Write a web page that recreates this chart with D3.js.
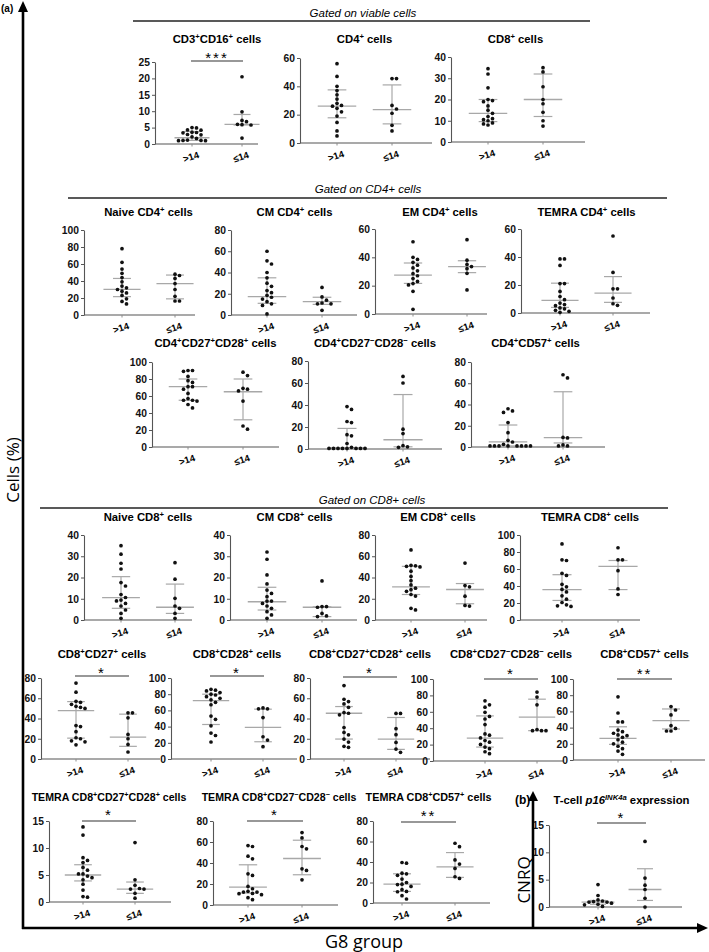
<!DOCTYPE html>
<html>
<head>
<meta charset="utf-8">
<script src="https://cdn.jsdelivr.net/npm/d3@7"></script>
<style>
  body { margin: 0; background: #fff; }
  svg { display: block; }
</style>
</head>
<body>
<div id="chart"></div>
<script>
// ---------- data ----------
const groups = [">14", "≤14"];

const titles = [
  "CD3^+CD16^+ cells", "CD4^+ cells", "CD8^+ cells",
  "Naive CD4^+ cells", "CM CD4^+ cells", "EM CD4^+ cells", "TEMRA CD4^+ cells",
  "CD4^+CD27^+CD28^+ cells", "CD4^+CD27^−CD28^− cells", "CD4^+CD57^+ cells",
  "Naive CD8^+ cells", "CM CD8^+ cells", "EM CD8^+ cells", "TEMRA CD8^+ cells",
  "CD8^+CD27^+ cells", "CD8^+CD28^+ cells", "CD8^+CD27^+CD28^+ cells", "CD8^+CD27^−CD28^− cells", "CD8^+CD57^+ cells",
  "TEMRA CD8^+CD27^+CD28^+ cells", "TEMRA CD8^+CD27^−CD28^− cells", "TEMRA CD8^+CD57^+ cells",
  "T-cell _{p16}^{INK4a} expression"
];

const yMax  = [25, 60, 40, 100, 80, 60, 60, 100, 80, 80, 40, 40, 80, 100, 80, 100, 80, 100, 100, 15, 80, 80, 15];
const yStep = [5, 20, 10, 20, 20, 20, 20, 20, 20, 20, 10, 10, 20, 20, 20, 20, 20, 20, 20, 5, 20, 20, 5];

const stars = ["***", "", "", "", "", "", "", "", "", "", "", "", "", "",
  "*", "*", "*", "*", "**", "*", "*", "**", "*"];

// individual values, group >14
const over14 = [
  [5.0, 4.9, 4.3, 4.2, 3.6, 3.5, 3.4, 2.9, 2.8, 2.2, 1.7, 1.2, 1.1, 1.1, 1.0, 1.0],
  [56, 47, 40, 37, 34, 31, 28, 26.5, 26, 24.5, 22, 19, 14.5, 8.5, 5],
  [34.5, 32, 25.5, 20, 19.5, 19, 17, 15, 13.5, 12, 11, 10.5, 10, 9, 8.5, 8],
  [78, 62, 54, 49, 44, 39, 34, 32, 30, 28, 26, 23, 19, 16, 13],
  [60, 51, 48, 40, 35, 30, 27, 23, 21, 18.5, 16.7, 15, 12.5, 10.5, 9, 1],
  [51, 40, 38.5, 36.5, 34.5, 32.5, 30.5, 28.5, 27, 25, 23, 21.5, 20.5, 16, 3.3],
  [38.6, 38.6, 34, 21, 21, 15.4, 11.8, 9.5, 7.1, 6, 5.2, 3.6, 3, 1.9, 1.2, 0.5],
  [90, 90, 89, 83, 78, 76, 71, 71, 68, 63, 57, 55, 55, 54, 50, 46],
  [38.6, 36, 25, 24, 13, 12, 5, 1.5, 0.5, 0.5, 0.5, 0.5, 0.5, 0.5, 0.5, 0.5],
  [36, 34, 32.5, 23, 13.5, 6.3, 4.7, 2.5, 1, 1, 1, 1, 1, 1, 1, 1],
  [35, 31, 26.7, 24, 17.6, 16, 12, 10.6, 9.4, 9, 7.8, 6.6, 4.7, 3.1, 0.8],
  [32, 28.6, 21.2, 17, 14.1, 12.5, 11, 8.9, 8.9, 7.8, 6.6, 5.5, 3.9, 2.4, 0.8],
  [66, 51.5, 51, 50.5, 50, 46, 41, 37, 33, 30, 28.5, 27, 24, 22.5, 11, 9.5],
  [89.5, 70.8, 70, 54.9, 52.5, 42, 39, 36, 33, 28.4, 24.5, 20.6, 17.9, 16.7, 16],
  [75, 66, 57, 56, 54, 52, 51, 50, 33, 32, 27, 21, 20, 18, 17, 14],
  [86, 85, 84, 82, 80, 79, 77, 75, 73, 70, 67, 53, 49, 41, 32, 29, 21],
  [72.5, 59, 56.7, 54.4, 51, 45.9, 45.2, 43.6, 31.1, 26.2, 23.9, 19.7, 16.7, 12.5, 11.5],
  [73.4, 68.5, 65.7, 59.3, 54.4, 51.2, 44.4, 33, 31.5, 28.2, 25, 23, 20.2, 17, 15, 11.3, 8.9],
  [78, 58, 47, 47, 37, 35, 33, 31, 30, 28, 25, 22, 20, 17, 14, 11, 7],
  [13.9, 12.4, 8.2, 7.7, 7.3, 6.4, 5.9, 5.2, 5.2, 4.8, 4.5, 4.1, 3.3, 2.2, 1.0, 0.9],
  [56.6, 55.7, 46.5, 44, 29.7, 28.2, 17.7, 15.5, 13, 12.3, 12.3, 11, 10.8, 9.8, 7, 5.1],
  [39.5, 38.9, 29.1, 28.5, 27, 23.3, 20, 18.4, 18, 16.2, 13, 11.3, 11, 7.1, 3.9],
  [4.1, 2.1, 1.3, 1.1, 1.0, 0.9, 0.9, 0.7, 0.5, 0.4, 0.1]
];

// individual values, group <=14
const upTo14 = [
  [20.5, 9.8, 7.2, 6.8, 6.0, 5.9, 5.8, 1.8],
  [45.5, 45.5, 26.5, 24, 21, 12.5, 8.5],
  [35, 33, 26, 20, 18, 14, 10, 7.5],
  [48, 46.5, 43, 37, 30, 22, 16.5, 16.5],
  [26, 17, 14, 11.3, 10.5, 10.5, 4.4],
  [52.5, 38, 35, 33.5, 32, 28.7, 17],
  [55, 29, 17.3, 17.3, 10.7, 6.6, 5.5],
  [88, 84, 69, 68, 66, 54, 24.7, 21],
  [66, 60, 18, 14, 3, 2, 1.5],
  [68, 65, 9, 8.5, 2, 1, 1],
  [27, 19.2, 10.2, 6.6, 5.5, 3.1, 0.8],
  [18.4, 6.3, 6.3, 6.0, 3.1, 1.9, 1.6],
  [53.6, 32.4, 31.2, 22.4, 13.7, 13.1],
  [85, 70.8, 70.8, 58, 36.6, 30],
  [45.6, 45.6, 40.7, 24.3, 20, 14.4, 6.9],
  [63, 62, 62, 51.2, 27.5, 23.4, 15.2],
  [45, 45, 30, 24, 16.4, 9.8, 6.6],
  [84, 78, 68.5, 38.3, 37, 37, 37],
  [66, 61.7, 55.6, 42.4, 39, 35.8, 35.8],
  [11, 4.1, 3.1, 2.5, 2.4, 2.4, 1.6, 0.7],
  [69, 63.9, 55.7, 53.5, 34.5, 32.9, 24],
  [58.3, 55, 42, 38, 33.7, 25.6, 24],
  [12, 5.3, 4, 3.2, 1.6, 0]
];

// [Q1, median, Q3] as drawn
const statsOver = [
  [1.1, 1.9, 3.8], [17.8, 26, 37.5], [9.6, 13.5, 20], [21.6, 30.2, 43], [11, 17.3, 35],
  [21.6, 27.5, 36], [4, 9, 21.3], [55, 71, 80], [0.5, 1.3, 18.7], [1, 4.9, 20.7],
  [5.5, 10.5, 20.4], [4.7, 8.6, 15.4], [24, 31.2, 50.5], [23, 35.8, 53.3],
  [20.6, 47.8, 56.7], [42.6, 72, 80], [19.7, 45.2, 51.8], [17, 28, 55], [19.3, 26.7, 41],
  [3.9, 5, 6.9], [11.4, 17.1, 38.3], [11.3, 18.4, 28.5], [0.5, 0.9, 1.2]
];
const statsUpTo = [
  [5.8, 6.0, 9.0], [13.5, 23.5, 41], [12, 20, 32], [19, 37, 47], [10, 12.5, 16.7],
  [29.2, 33.4, 37.6], [7.6, 14.2, 26], [32, 65, 80], [2, 8.4, 49.5], [3.8, 8.8, 52],
  [3.1, 6, 16.9], [1.6, 6, 6.2], [15.3, 28.7, 34.3], [35.8, 63, 70],
  [12.5, 21.6, 44.3], [21.3, 39, 61.5], [9.5, 19.7, 41], [37, 53.6, 75.4], [38.3, 48.6, 63],
  [1.6, 2.4, 3.7], [28.8, 44.3, 61.7], [25, 35.3, 49.2], [1.2, 3.2, 7]
];

// ---------- layout: [axisX, group1X, group2X, axisEnd, yTop, y0, titleY, sigY, starY] ----------
const layout = [
  [155, 192, 242, 258, 62, 144, 43, 61, 55],
  [300, 337, 392, 432, 58, 143, 43],
  [451, 488, 543, 585, 57, 142, 43],
  [84, 122, 175, 195, 230, 315, 216],
  [231, 267, 322, 357, 230, 315, 216],
  [375, 413, 467, 487, 229, 314, 216],
  [521, 560, 613, 650, 229, 313, 216],
  [152, 188, 243, 279, 362, 447, 347],
  [308, 347, 403, 442, 361, 449, 347],
  [471, 508, 563, 605, 362, 447, 347],
  [84, 121, 175, 192, 535, 620, 521],
  [230, 267, 322, 357, 535, 620, 521],
  [375, 411, 465, 487, 535, 620, 521],
  [520, 562, 618, 640, 535, 620, 521],
  [41, 76, 128, 160, 678, 759, 658, 676, 670],
  [171, 211, 263, 297, 678, 759, 658, 676, 670],
  [310, 344, 396, 430, 678, 759, 658, 677, 670],
  [433, 485, 537, 563, 679, 761, 658, 679, 671],
  [573, 618, 671, 705, 679, 760, 658, 679, 671],
  [49, 83, 135, 171, 821, 902, 801, 821, 812],
  [213, 248, 302, 338, 821, 905, 801, 821, 812],
  [373, 402, 455, 490, 821, 903, 801, 822, 813],
  [549, 598, 645, 682, 825, 907, 804, 823, 815]
];
// title nudges [dx, fontSize]
const titleFit = d3.range(23).map(i =>
  i === 19 ? [0, 10.6] : i === 20 ? [4, 10.6] : i === 21 ? [0, 10.8] : [0, 11.3]);

const W = 709, H = 952;
const FONT = "'Liberation Sans', Arial, sans-serif";
const LIGHT = "#a8a8a8";

const svg = d3.select("#chart").append("svg")
  .attr("width", W).attr("height", H)
  .style("font-family", FONT);

// text with ^x / ^{..} superscripts and _{..} italics
function richText(sel, str, size) {
  const parts = str.split(/(\^\{[^}]*\}|\^[^{]|_\{[^}]*\})/).filter(s => s.length);
  let shift = 0;
  parts.forEach(p => {
    const t = sel.append("tspan");
    if (p[0] === "^") {
      const ital = p[1] === "{";
      const s = ital ? p.slice(2, -1) : p.slice(1);
      const up = -0.38 * size;
      t.attr("dy", up - shift).attr("font-size", size * 0.68).text(s);
      if (ital) t.attr("font-style", "italic");
      shift = up;
    } else if (p[0] === "_" && p[1] === "{") {
      t.attr("dy", -shift).attr("font-style", "italic").text(p.slice(2, -1));
      shift = 0;
    } else {
      t.attr("dy", -shift).text(p);
      shift = 0;
    }
  });
}

// simple beeswarm so overlapping dots spread sideways
function swarm(vals, y, cx) {
  const placed = [];
  vals.slice().sort((a, b) => b - a).forEach(v => {
    const py = y(v);
    for (let k = 0; k < 40; k++) {
      const off = (k % 2 ? 1 : -1) * Math.ceil(k / 2) * 4.5;
      const px = cx + off;
      if (!placed.some(p => (p[0] - px) ** 2 + (p[1] - py) ** 2 < 17)) {
        placed.push([px, py]);
        break;
      }
    }
  });
  return placed;
}

function drawPanel(i) {
  const [ax, g1, g2, end, top, y0, titleY, sigY, starY] = layout[i];
  const g = svg.append("g").attr("class", "panel");

  const y = d3.scaleLinear().domain([0, yMax[i]]).range([y0, top]);
  const x = d3.scalePoint().domain(groups).range([g1, g2]);

  // title
  const [tdx, tfs] = titleFit[i];
  const tt = g.append("text")
    .attr("x", (g1 + g2) / 2 + tdx).attr("y", titleY)
    .attr("text-anchor", "middle")
    .attr("font-size", tfs).attr("font-weight", "bold");
  richText(tt, titles[i], tfs);

  // x axis line and group labels
  g.append("line")
    .attr("x1", ax).attr("x2", end).attr("y1", y0).attr("y2", y0)
    .attr("stroke", "#8c8c8c").attr("stroke-width", 1.5);
  groups.forEach(d => {
    g.append("line")
      .attr("x1", x(d)).attr("x2", x(d)).attr("y1", y0).attr("y2", y0 + 2.5)
      .attr("stroke", "#8c8c8c");
    g.append("text")
      .attr("transform", `translate(${x(d)},${y0 + 16}) rotate(-18)`)
      .attr("text-anchor", "middle")
      .attr("font-size", 9.5).attr("font-weight", "bold")
      .text(d);
  });

  // y axis
  const yAxis = d3.axisLeft(y)
    .tickValues(d3.range(0, yMax[i] + 0.001, yStep[i]))
    .tickSize(3).tickSizeOuter(0).tickPadding(2);
  const ya = g.append("g").attr("transform", `translate(${ax},0)`).call(yAxis);
  ya.select(".domain").attr("stroke", "#555").attr("stroke-width", 1.1);
  ya.selectAll(".tick line").attr("stroke", "#555");
  ya.selectAll(".tick text")
    .attr("font-family", FONT).attr("font-size", 10.3).attr("font-weight", "bold")
    .attr("fill", "#111");

  // median + IQR
  const half = g2 - g1;
  [[g1, statsOver[i]], [g2, statsUpTo[i]]].forEach(([cx, s]) => {
    g.append("line").attr("x1", cx).attr("x2", cx)
      .attr("y1", y(s[0])).attr("y2", y(s[2]))
      .attr("stroke", LIGHT).attr("stroke-width", 1.2);
    g.append("line").attr("x1", cx - half * 0.35).attr("x2", cx + half * 0.35)
      .attr("y1", y(s[1])).attr("y2", y(s[1]))
      .attr("stroke", LIGHT).attr("stroke-width", 1.3);
    [s[0], s[2]].forEach(q => {
      g.append("line").attr("x1", cx - half * 0.17).attr("x2", cx + half * 0.17)
        .attr("y1", y(q)).attr("y2", y(q))
        .attr("stroke", LIGHT).attr("stroke-width", 1.2);
    });
  });

  // dots
  [[x(groups[0]), over14[i]], [x(groups[1]), upTo14[i]]].forEach(([cx, vals]) => {
    g.selectAll(null).data(swarm(vals, y, cx)).enter().append("circle")
      .attr("cx", d => d[0]).attr("cy", d => d[1]).attr("r", 1.85)
      .attr("fill", "#111");
  });

  // significance bar
  if (stars[i]) {
    g.append("line").attr("x1", g1 - 1).attr("x2", g2 + 1)
      .attr("y1", sigY).attr("y2", sigY)
      .attr("stroke", "#333").attr("stroke-width", 1.2);
    g.append("text")
      .attr("x", (g1 + g2) / 2).attr("y", starY + 8)
      .attr("text-anchor", "middle")
      .attr("font-size", 15).attr("letter-spacing", 2)
      .text(stars[i]);
  }
}

d3.range(titles.length).forEach(drawPanel);

// ---------- section headers ----------
const headers = [
  ["Gated on viable cells", 363, 17, 133, 590, 21],
  ["Gated on CD4+ cells", 368, 193, 68, 667, 198],
  ["Gated on CD8+ cells", 372, 504, 40, 668, 508]
];
headers.forEach(([label, cx, ty, x1, x2, ly]) => {
  svg.append("text").attr("x", cx).attr("y", ty)
    .attr("text-anchor", "middle").attr("font-style", "italic")
    .attr("font-size", 11.5).text(label);
  svg.append("line").attr("x1", x1).attr("x2", x2).attr("y1", ly).attr("y2", ly)
    .attr("stroke", "#222").attr("stroke-width", 1.3);
});

// ---------- outer frame arrows ----------
const frame = svg.append("g");
frame.append("line").attr("x1", 23).attr("x2", 23).attr("y1", 8).attr("y2", 929)
  .attr("stroke", "#000").attr("stroke-width", 2.6);
frame.append("path").attr("d", "M23,1 L18,12 L28,12 Z").attr("fill", "#000");
frame.append("line").attr("x1", 22).attr("x2", 700).attr("y1", 928).attr("y2", 928)
  .attr("stroke", "#000").attr("stroke-width", 2.6);
frame.append("path").attr("d", "M708,928 L697,923 L697,933 Z").attr("fill", "#000");
frame.append("line").attr("x1", 533).attr("x2", 533).attr("y1", 798).attr("y2", 929)
  .attr("stroke", "#000").attr("stroke-width", 2.6);
frame.append("path").attr("d", "M533,791 L528,801 L538,801 Z").attr("fill", "#000");

svg.append("text").attr("x", 1).attr("y", 12)
  .attr("font-size", 10).attr("font-weight", "bold").text("(a)");
svg.append("text").attr("x", 515).attr("y", 804)
  .attr("font-size", 12).attr("font-weight", "bold").text("(b)");

svg.append("text")
  .attr("transform", "translate(19,470) rotate(-90)")
  .attr("text-anchor", "middle")
  .attr("font-family", "'Open Sans', sans-serif")
  .attr("font-size", 17).text("Cells (%)");
svg.append("text")
  .attr("x", 364).attr("y", 948).attr("text-anchor", "middle")
  .attr("font-family", "'Open Sans', sans-serif")
  .attr("font-size", 18).text("G8 group");
svg.append("text")
  .attr("transform", "translate(530,880) rotate(-90)")
  .attr("text-anchor", "middle")
  .attr("font-family", "'Open Sans', sans-serif")
  .attr("font-size", 17).text("CNRQ");
</script>
</body>
</html>
